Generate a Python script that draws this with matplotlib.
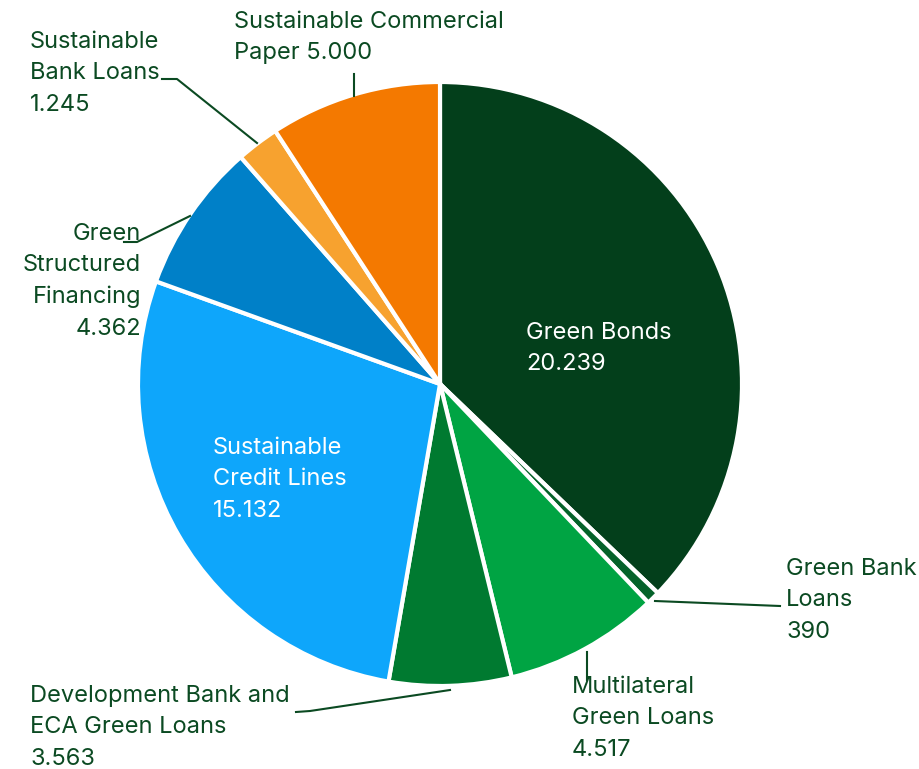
import matplotlib.pyplot as plt

plt.rcParams['font.family'] = ['Inter', 'DejaVu Sans']

# data
categories = ['Green Bonds', 'Green Bank Loans', 'Multilateral Green Loans',
              'Development Bank and ECA Green Loans', 'Sustainable Credit Lines',
              'Green Structured Financing', 'Sustainable Bank Loans',
              'Sustainable Commercial Paper']
values = [20239, 390, 4517, 3563, 15132, 4362, 1245, 5000]
colors = ['#033f1b', '#05622a', '#00a443', '#007a30', '#0ea6fb',
          '#0080c8', '#f7a22f', '#f47900']

label_texts = ['Green Bonds\n20.239', 'Green Bank\nLoans\n390',
               'Multilateral\nGreen Loans\n4.517',
               'Development Bank and\nECA Green Loans\n3.563',
               'Sustainable\nCredit Lines\n15.132',
               'Green\nStructured\nFinancing\n4.362',
               'Sustainable\nBank Loans\n1.245',
               'Sustainable Commercial\nPaper 5.000']

W, H = 919, 769
txt_col = '#0b4a22'


def py(y):
    # pixel row -> data y
    return H - y


fig = plt.figure(figsize=(W / 100, H / 100), dpi=100)
ax = fig.add_axes([0, 0, 1, 1])

ax.pie(values, colors=colors, startangle=90, counterclock=False,
       center=(440, py(384)), radius=302, frame=True,
       wedgeprops=dict(edgecolor='white', linewidth=3))
ax.set_xlim(0, W)
ax.set_ylim(0, H)
ax.axis('off')

fs = 17
ls = 1.55
# label placement: (x, y_top, ha, color)
places = [(526, 322, 'left', 'white'),
          (786, 558, 'left', txt_col),
          (572, 676, 'left', txt_col),
          (30, 685, 'left', txt_col),
          (213, 437, 'left', 'white'),
          (141, 223, 'right', txt_col),
          (30, 31, 'left', txt_col),
          (234, 11, 'left', txt_col)]
for t, (x, y, ha, c) in zip(label_texts, places):
    ax.text(x, py(y), t, ha=ha, va='top', color=c, fontsize=fs,
            linespacing=ls, multialignment=ha)

# leader lines
leaders = [
    [(655, 601), (780, 606)],
    [(587, 652), (587, 680)],
    [(296, 712), (310, 711), (450, 690)],
    [(124, 242), (137, 242), (190, 216)],
    [(162, 79), (177, 79), (257, 143)],
    [(354, 74), (354, 96)],
]
for pts in leaders:
    xs = [p[0] for p in pts]
    ys = [py(p[1]) for p in pts]
    ax.plot(xs, ys, color=txt_col, linewidth=1.5)

fig.savefig('out.png', dpi=100)
